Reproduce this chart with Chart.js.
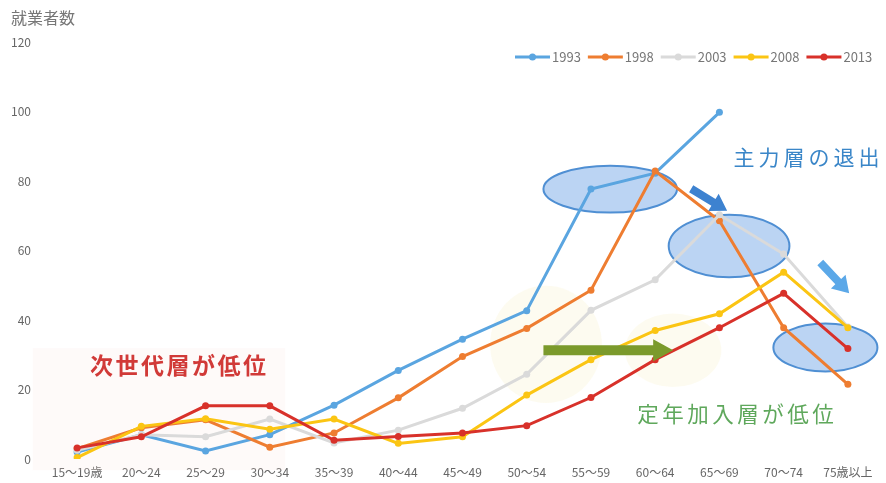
<!DOCTYPE html>
<html>
<head>
<meta charset="utf-8">
<title>就業者数</title>
<script src="https://cdn.jsdelivr.net/npm/chart.js"></script>
<style>
  html, body { margin: 0; padding: 0; background: #fff; }
  #wrap { width: 886px; height: 483px; }
</style>
</head>
<body>
<div id="wrap"><canvas id="chart" width="886" height="483"></canvas></div>
<script>
// age groups
var categories = ['15～19歳', '20～24', '25～29', '30～34', '35～39', '40～44', '45～49',
                  '50～54', '55～59', '60～64', '65～69', '70～74', '75歳以上'];
var yearLabels = ['1993', '1998', '2003', '2008', '2013'];
var yearColors = ['#5aa5e0', '#ee7d31', '#dadada', '#fbc513', '#d8312a'];
var yTicks = [0, 20, 40, 60, 80, 100, 120];

var v1993 = [2, 7, 2.3, 7, 15.5, 25.5, 34.5, 42.7, 77.7, 82.3, 99.8, null, null];
var v1998 = [3, 9, 11.3, 3.4, 7.5, 17.6, 29.5, 37.6, 48.6, 82.9, 68.6, 37.8, 21.5];
var v2003 = [2.5, 7, 6.4, 11.5, 4.6, 8.3, 14.6, 24.4, 42.8, 51.6, 70.3, 59, 38];
var v2008 = [0.4, 9.4, 11.6, 8.6, 11.5, 4.5, 6.4, 18.4, 28.6, 37, 41.8, 53.8, 37.8];
var v2013 = [3.2, 6.4, 15.3, 15.3, 5.4, 6.5, 7.5, 9.6, 17.7, 28.6, 37.8, 47.7, 31.8];

var seriesValues = [v1993, v1998, v2003, v2008, v2013];
var FONT = "'Noto Sans CJK JP', 'Noto Sans', sans-serif";

var datasets = seriesValues.map(function (vals, i) {
    return {
        label: yearLabels[i],
        data: vals,
        borderColor: yearColors[i],
        backgroundColor: yearColors[i],
        borderWidth: 3,
        pointRadius: 3.5,
        pointBorderWidth: 0,
        pointBackgroundColor: yearColors[i],
        tension: 0,
        spanGaps: false,
        order: seriesValues.length - i   // later years drawn on top
    };
});

function ellipse(ctx, cx, cy, rx, ry, fill, stroke, lw) {
    ctx.beginPath();
    ctx.ellipse(cx, cy, rx, ry, 0, 0, Math.PI * 2);
    ctx.fillStyle = fill;
    ctx.fill();
    if (stroke) {
        ctx.lineWidth = lw;
        ctx.strokeStyle = stroke;
        ctx.stroke();
    }
}

// block arrow from (x1,y1) to (x2,y2)
function blockArrow(ctx, x1, y1, x2, y2, shaft, headW, headL, color) {
    var ang = Math.atan2(y2 - y1, x2 - x1);
    var len = Math.hypot(x2 - x1, y2 - y1);
    ctx.save();
    ctx.translate(x1, y1);
    ctx.rotate(ang);
    ctx.beginPath();
    ctx.moveTo(0, -shaft / 2);
    ctx.lineTo(len - headL, -shaft / 2);
    ctx.lineTo(len - headL, -headW / 2);
    ctx.lineTo(len, 0);
    ctx.lineTo(len - headL, headW / 2);
    ctx.lineTo(len - headL, shaft / 2);
    ctx.lineTo(0, shaft / 2);
    ctx.closePath();
    ctx.fillStyle = color;
    ctx.fill();
    ctx.restore();
}

var backdrop = {
    id: 'backdrop',
    beforeDatasetsDraw: function (chart) {
        var ctx = chart.ctx, x = chart.scales.x, y = chart.scales.y;
        var px = function (i) { return x.getPixelForValue(i); };
        var py = function (v) { return y.getPixelForValue(v); };
        var ux = px(1) - px(0), uy = py(0) - py(1);
        ctx.save();
        // faint pink patch behind the left note
        ctx.fillStyle = 'rgba(250,228,224,0.18)';
        ctx.fillRect(px(-0.69), py(31.9), px(3.24) - px(-0.69), py(-3.2) - py(31.9));
        // faint yellow circles
        ellipse(ctx, px(7.3), py(33), 0.87 * ux, 16.9 * uy, 'rgba(250,242,205,0.3)');
        ellipse(ctx, px(9.28), py(31.3), 0.75 * ux, 10.6 * uy, 'rgba(250,242,205,0.3)');
        // blue ellipses
        ellipse(ctx, px(8.3), py(77.7), 1.04 * ux, 6.75 * uy, 'rgba(168,200,240,0.78)', '#4f8fd3', 2);
        ellipse(ctx, px(10.15), py(61.3), 0.94 * ux, 9.0 * uy, 'rgba(168,200,240,0.78)', '#4f8fd3', 2);
        ellipse(ctx, px(11.65), py(32.1), 0.81 * ux, 6.9 * uy, 'rgba(168,200,240,0.78)', '#4f8fd3', 2);
        ctx.restore();
    },
    afterDatasetsDraw: function (chart) {
        var ctx = chart.ctx, x = chart.scales.x, y = chart.scales.y;
        var px = function (i) { return x.getPixelForValue(i); };
        var py = function (v) { return y.getPixelForValue(v); };
        ctx.save();
        // arrows
        blockArrow(ctx, px(7.26), py(31.3), px(9.28), py(31.3), 10, 22, 20, '#7b9a2c');
        blockArrow(ctx, px(9.56), py(77.8), px(10.12), py(71.5), 8, 20, 16, '#3d82d0');
        blockArrow(ctx, px(11.57), py(56.6), px(12.02), py(47.7), 8, 20, 16, '#5ba8e8');

        // notes
        ctx.textBaseline = 'middle';
        ctx.textAlign = 'left';
        ctx.letterSpacing = '2.5px';
        ctx.font = 'bold 23px ' + FONT;
        ctx.fillStyle = '#d13a38';
        ctx.fillText('次世代層が低位', px(0.2), py(27));
        ctx.letterSpacing = '4px';
        ctx.font = '21px ' + FONT;
        ctx.fillStyle = '#3a86c8';
        ctx.fillText('主力層の退出', px(10.22), py(87));
        ctx.letterSpacing = '3.5px';
        ctx.font = '21.5px ' + FONT;
        ctx.fillStyle = '#5fa85c';
        ctx.fillText('定年加入層が低位', px(8.72), py(12.9));
        ctx.letterSpacing = '0px';

        // legend (line + dot, then year)
        ctx.font = '13px ' + FONT;
        var lx = 515, ly = 57;
        chart.data.datasets.forEach(function (ds) {
            ctx.strokeStyle = ds.borderColor;
            ctx.lineWidth = 3;
            ctx.beginPath();
            ctx.moveTo(lx, ly);
            ctx.lineTo(lx + 35, ly);
            ctx.stroke();
            ctx.beginPath();
            ctx.arc(lx + 17.5, ly, 3.5, 0, Math.PI * 2);
            ctx.fillStyle = ds.borderColor;
            ctx.fill();
            ctx.fillStyle = '#777';
            ctx.fillText(ds.label, lx + 37, ly);
            lx += 37 + ctx.measureText(ds.label).width + 7;
        });
        ctx.restore();
    }
};

new Chart(document.getElementById('chart'), {
    type: 'line',
    data: { labels: categories, datasets: datasets },
    options: {
        responsive: false,
        animation: false,
        layout: { padding: { left: 11, right: 6, top: 0, bottom: 0 } },
        plugins: {
            legend: { display: false },
            tooltip: { enabled: false },
            title: {
                display: true,
                text: '就業者数',
                align: 'start',
                color: '#777',
                font: { family: FONT, size: 16, weight: 'normal' },
                padding: { top: 8, bottom: 15 }
            }
        },
        scales: {
            x: {
                offset: true,
                grid: { display: false, drawTicks: false },
                border: { display: false },
                ticks: {
                    color: '#666',
                    font: { family: FONT, size: 12 },
                    padding: 6,
                    maxRotation: 0,
                    autoSkip: false
                },
                afterFit: function (s) { s.height = 24; }
            },
            y: {
                min: yTicks[0],
                max: yTicks[yTicks.length - 1],
                grid: { display: false, drawTicks: false },
                border: { display: false },
                afterBuildTicks: function (s) {
                    s.ticks = yTicks.map(function (v) { return { value: v }; });
                },
                ticks: {
                    color: '#666',
                    font: { family: FONT, size: 12 },
                    padding: 14
                },
                afterFit: function (s) { s.width = 34; }
            }
        }
    },
    plugins: [backdrop]
});
</script>
</body>
</html>
